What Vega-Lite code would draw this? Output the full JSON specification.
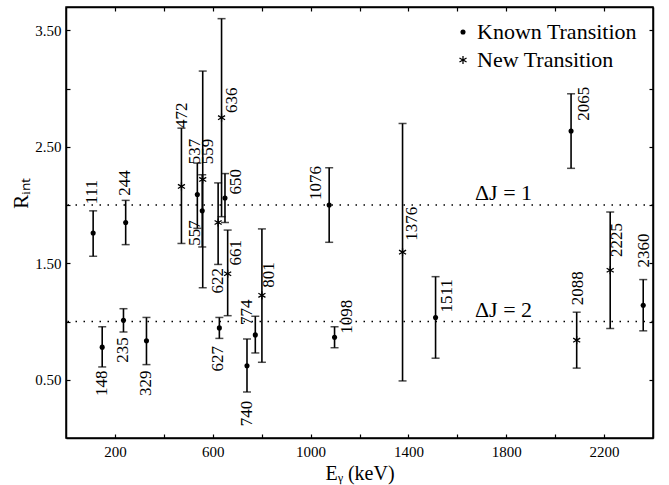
{
  "$schema": "https://vega.github.io/schema/vega-lite/v6.json",
  "width": 587,
  "height": 431,
  "autosize": {"type": "none"},
  "padding": {"left": 66, "top": 7, "right": 16, "bottom": 47},
  "config": {
    "view": {"stroke": "black", "strokeWidth": 1.5},
    "font": "Liberation Serif",
    "axis": {"domainColor": "black", "domainWidth": 1.5, "tickColor": "black", "tickSize": -4, "tickWidth": 1.2, "grid": false, "labelFont": "Liberation Serif", "labelFontSize": 15, "labelColor": "black", "titleFont": "Liberation Serif", "titleFontSize": 20, "titleFontWeight": "normal", "titleColor": "black"},
    "legend": {"labelFont": "Liberation Serif", "labelFontSize": 22, "labelColor": "black", "symbolSize": 26}
  },
  "datasets": {
    "pts": [
      {"E": 111, "R": 1.76, "lo": 1.56, "hi": 1.95, "type": "Known Transition", "label": "111", "lx": 105, "ly": 2.11},
      {"E": 148, "R": 0.78, "lo": 0.61, "hi": 0.955, "type": "Known Transition", "label": "148", "lx": 148, "ly": 0.47},
      {"E": 235, "R": 1.01, "lo": 0.91, "hi": 1.11, "type": "Known Transition", "label": "235", "lx": 234, "ly": 0.755},
      {"E": 244, "R": 1.85, "lo": 1.66, "hi": 2.04, "type": "Known Transition", "label": "244", "lx": 241, "ly": 2.19},
      {"E": 329, "R": 0.835, "lo": 0.63, "hi": 1.035, "type": "Known Transition", "label": "329", "lx": 327, "ly": 0.47},
      {"E": 472, "R": 2.16, "lo": 1.67, "hi": 2.66, "type": "New Transition", "label": "472", "lx": 473, "ly": 2.77},
      {"E": 537, "R": 2.09, "lo": 1.8, "hi": 2.36, "type": "Known Transition", "label": "537", "lx": 527, "ly": 2.46},
      {"E": 557, "R": 1.95, "lo": 1.64, "hi": 2.26, "type": "Known Transition", "label": "557", "lx": 527, "ly": 1.76},
      {"E": 559, "R": 2.22, "lo": 1.29, "hi": 3.15, "type": "New Transition", "label": "559", "lx": 582, "ly": 2.46},
      {"E": 622, "R": 1.85, "lo": 1.49, "hi": 2.19, "type": "New Transition", "label": "622", "lx": 623, "ly": 1.35},
      {"E": 627, "R": 0.945, "lo": 0.855, "hi": 1.035, "type": "Known Transition", "label": "627", "lx": 623, "ly": 0.68},
      {"E": 636, "R": 2.75, "lo": 1.9, "hi": 3.6, "type": "New Transition", "label": "636", "lx": 677, "ly": 2.9},
      {"E": 650, "R": 2.06, "lo": 1.85, "hi": 2.27, "type": "Known Transition", "label": "650", "lx": 695, "ly": 2.2},
      {"E": 661, "R": 1.41, "lo": 1.05, "hi": 1.785, "type": "New Transition", "label": "661", "lx": 694, "ly": 1.59},
      {"E": 740, "R": 0.62, "lo": 0.395, "hi": 0.85, "type": "Known Transition", "label": "740", "lx": 739, "ly": 0.21},
      {"E": 774, "R": 0.885, "lo": 0.73, "hi": 1.045, "type": "Known Transition", "label": "774", "lx": 741, "ly": 1.08},
      {"E": 801, "R": 1.225, "lo": 0.65, "hi": 1.795, "type": "New Transition", "label": "801", "lx": 831, "ly": 1.4},
      {"E": 1076, "R": 2.0, "lo": 1.68, "hi": 2.32, "type": "Known Transition", "label": "1076", "lx": 1022, "ly": 2.19},
      {"E": 1098, "R": 0.865, "lo": 0.775, "hi": 0.955, "type": "Known Transition", "label": "1098", "lx": 1150, "ly": 1.04},
      {"E": 1376, "R": 1.595, "lo": 0.49, "hi": 2.7, "type": "New Transition", "label": "1376", "lx": 1413, "ly": 1.84},
      {"E": 1511, "R": 1.035, "lo": 0.685, "hi": 1.385, "type": "Known Transition", "label": "1511", "lx": 1559, "ly": 1.22},
      {"E": 2065, "R": 2.635, "lo": 2.315, "hi": 2.955, "type": "Known Transition", "label": "2065", "lx": 2118, "ly": 2.87},
      {"E": 2088, "R": 0.84, "lo": 0.6, "hi": 1.08, "type": "New Transition", "label": "2088", "lx": 2092, "ly": 1.285},
      {"E": 2225, "R": 1.44, "lo": 0.94, "hi": 1.94, "type": "New Transition", "label": "2225", "lx": 2251, "ly": 1.7},
      {"E": 2360, "R": 1.14, "lo": 0.92, "hi": 1.36, "type": "Known Transition", "label": "2360", "lx": 2363, "ly": 1.61}
    ],
    "refs": [
      {"y": 1.0, "text": "ΔJ = 2", "tx": 1672, "ty": 1.1},
      {"y": 2.0, "text": "ΔJ = 1", "tx": 1672, "ty": 2.106}
    ]
  },
  "layer": [
    {
      "data": {"name": "refs"},
      "mark": {"type": "rule", "color": "black", "strokeWidth": 1.5, "strokeDash": [1.5, 6.5]},
      "encoding": {
        "y": {"field": "y", "type": "quantitative", "scale": {"domain": [0, 3.7], "nice": false, "zero": false}, "axis": null}
      }
    },
    {
      "data": {"name": "refs"},
      "mark": {"type": "text", "align": "left", "baseline": "middle", "fontSize": 22, "font": "Liberation Serif", "color": "black"},
      "encoding": {
        "x": {"field": "tx", "type": "quantitative", "axis": null},
        "y": {"field": "ty", "type": "quantitative", "axis": null},
        "text": {"field": "text"}
      }
    },
    {
      "data": {"name": "pts"},
      "mark": {"type": "rule", "color": "black", "strokeWidth": 1.6},
      "encoding": {
        "x": {"field": "E", "type": "quantitative", "scale": {"domain": [0, 2400], "nice": false, "zero": false},
              "title": "Eᵧ (keV)",
              "axis": {"orient": "bottom", "format": "d", "values": [200, 400, 600, 800, 1000, 1200, 1400, 1600, 1800, 2000, 2200], "labelExpr": "(datum.value - 200) % 400 == 0 ? datum.label : ''", "labelPadding": 10}},
        "y": {"field": "lo", "type": "quantitative", "title": "Rᵢₙₜ",
              "axis": {"orient": "left", "values": [0.5, 1, 1.5, 2, 2.5, 3, 3.5], "format": ".2f", "labelExpr": "(datum.value * 2) % 2 == 1 ? datum.label : ''", "labelPadding": 9, "titleX": -35, "titleY": 186, "titleFontSize": 21}},
        "y2": {"field": "hi"}
      }
    },
    {
      "data": {"name": "pts"},
      "mark": {"type": "tick", "orient": "horizontal", "color": "black", "size": 8, "thickness": 1.5},
      "encoding": {
        "x": {"field": "E", "type": "quantitative", "axis": null},
        "y": {"field": "lo", "type": "quantitative", "axis": null}
      }
    },
    {
      "data": {"name": "pts"},
      "mark": {"type": "tick", "orient": "horizontal", "color": "black", "size": 8, "thickness": 1.5},
      "encoding": {
        "x": {"field": "E", "type": "quantitative", "axis": null},
        "y": {"field": "hi", "type": "quantitative", "axis": null}
      }
    },
    {
      "data": {"name": "pts"},
      "mark": {"type": "point", "filled": true, "color": "black", "opacity": 1, "size": 26},
      "encoding": {
        "x": {"field": "E", "type": "quantitative", "title": null,
              "axis": {"orient": "top", "values": [200, 400, 600, 800, 1000, 1200, 1400, 1600, 1800, 2000, 2200], "labels": false}},
        "y": {"field": "R", "type": "quantitative", "title": null,
              "axis": {"orient": "right", "values": [0.5, 1, 1.5, 2, 2.5, 3, 3.5], "labels": false}},
        "shape": {"field": "type", "type": "nominal",
                  "scale": {"domain": ["Known Transition", "New Transition"], "range": ["circle", "M1.511,0.583L1.261,1.017L0.25,0.433L0.25,1.6L-0.25,1.6L-0.25,0.433L-1.261,1.017L-1.511,0.583L-0.5,0L-1.511,-0.583L-1.261,-1.017L-0.25,-0.433L-0.25,-1.6L0.25,-1.6L0.25,-0.433L1.261,-1.017L1.511,-0.583L0.5,0Z"]},
                  "legend": {"title": null, "orient": "none", "legendX": 386, "legendY": 14, "direction": "vertical", "labelOffset": 3, "rowPadding": 6,
                             "symbolFillColor": "black", "symbolSize": 26, "symbolOpacity": 1,
                             "encode": {"symbols": {"update": {"fill": {"value": "black"}, "opacity": {"value": 1}}}}}}
      }
    },
    {
      "data": {"name": "pts"},
      "mark": {"type": "text", "angle": 270, "align": "center", "baseline": "middle", "fontSize": 17, "font": "Liberation Serif", "color": "black"},
      "encoding": {
        "x": {"field": "lx", "type": "quantitative", "axis": null},
        "y": {"field": "ly", "type": "quantitative", "axis": null},
        "text": {"field": "label"}
      }
    }
  ],
  "resolve": {"axis": {"x": "independent", "y": "independent"}}
}
